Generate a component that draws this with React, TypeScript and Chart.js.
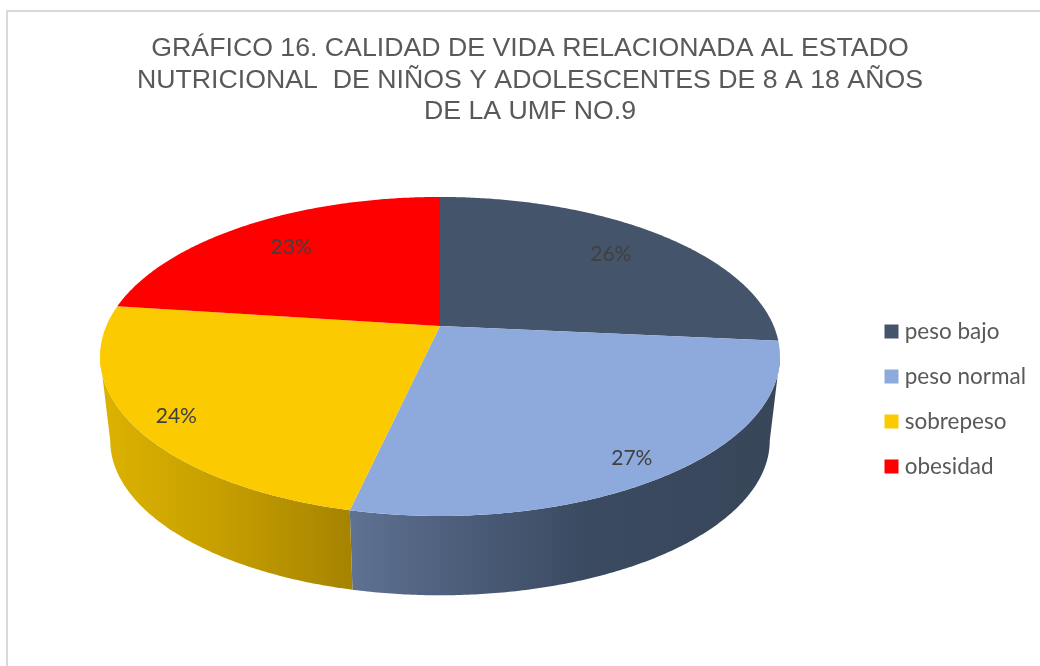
import React, { useEffect, useRef } from "react";
import { Chart, registerables } from "chart.js";

Chart.register(...registerables);

const titleLines = [
  "GRÁFICO 16. CALIDAD DE VIDA RELACIONADA AL ESTADO",
  "NUTRICIONAL  DE NIÑOS Y ADOLESCENTES DE 8 A 18 AÑOS",
  "DE LA UMF NO.9",
];
const categories = ["peso bajo", "peso normal", "sobrepeso", "obesidad"];
const shares = [26.49, 27.04, 23.57, 22.9];
const sliceColors = ["#44546A", "#8EA9DB", "#FCCA00", "#FF0000"];

// Perspective view of the pie disc (style only)
const VIEW = { cx: 440, cy: 326, a: 333.7, b: 153.7, k: -0.191, drop: 85, shrink: 0.97 };
const WALL_STOPS: Record<number, [number, string][]> = {
  1: [[0, "#5F7292"], [0.25, "#4D5E7B"], [0.55, "#3A4A60"], [1, "#384659"]],
  2: [[0, "#DDB300"], [0.5, "#C49E00"], [1, "#A68300"]],
};
const LABEL_RADIUS = [0.76, 0.89, 0.885, 0.75];
const LABEL_TURN = [0, 0.04, -0.03, 0];

function rim(angle: number, r = 1, lower = false) {
  const X = r * Math.cos(angle);
  const Y = r * Math.sin(angle);
  const d = 1 + VIEW.k * Y;
  const s = lower ? VIEW.shrink : 1;
  return {
    x: VIEW.cx + (s * VIEW.a * X) / d,
    y: VIEW.cy + (lower ? VIEW.drop : 0) + (s * VIEW.b * Y) / d,
  };
}

const STEP = Math.PI / 360;

const pie3d = {
  id: "pie3d",
  beforeDraw(chart: any) {
    const { ctx, width, height } = chart;
    ctx.save();
    ctx.fillStyle = "#D9D9D9";
    ctx.fillRect(6, 10, width - 6, 2);
    ctx.fillRect(6, 10, 2, height - 10);
    ctx.restore();
  },
  beforeDatasetDraw() {
    return false;
  },
  afterDatasetsDraw(chart: any) {
    const { ctx } = chart;
    const arcs = chart.getDatasetMeta(0).data;
    const right = Math.asin(-VIEW.k);
    const left = Math.PI - right;
    ctx.save();
    arcs.forEach((arc: any, i: number) => {
      const stops = WALL_STOPS[i];
      const a0 = Math.max(arc.startAngle, right);
      const a1 = Math.min(arc.endAngle, left);
      if (!stops || a1 <= a0) return;
      const top: { x: number; y: number }[] = [];
      const bottom: { x: number; y: number }[] = [];
      for (let a = a0; a < a1; a += STEP) {
        top.push(rim(a));
        bottom.push(rim(a, 1, true));
      }
      top.push(rim(a1));
      bottom.push(rim(a1, 1, true));
      const xs = top.concat(bottom).map((p) => p.x);
      const g = ctx.createLinearGradient(Math.min(...xs), 0, Math.max(...xs), 0);
      stops.forEach(([o, c]) => g.addColorStop(o, c));
      ctx.beginPath();
      top.forEach((p, n) => (n ? ctx.lineTo(p.x, p.y) : ctx.moveTo(p.x, p.y)));
      bottom.reverse().forEach((p) => ctx.lineTo(p.x, p.y));
      ctx.closePath();
      ctx.fillStyle = g;
      ctx.fill();
    });
    arcs.forEach((arc: any) => {
      ctx.beginPath();
      ctx.moveTo(VIEW.cx, VIEW.cy);
      for (let a = arc.startAngle; a < arc.endAngle; a += STEP) {
        const p = rim(a);
        ctx.lineTo(p.x, p.y);
      }
      const end = rim(arc.endAngle);
      ctx.lineTo(end.x, end.y);
      ctx.closePath();
      ctx.fillStyle = arc.options.backgroundColor;
      ctx.fill();
    });
    const total = shares.reduce((s, v) => s + v, 0);
    ctx.font = "21px Lato";
    ctx.fillStyle = "#404040";
    ctx.textAlign = "center";
    ctx.textBaseline = "middle";
    arcs.forEach((arc: any, i: number) => {
      const p = rim((arc.startAngle + arc.endAngle) / 2 + LABEL_TURN[i], LABEL_RADIUS[i]);
      ctx.fillText(`${Math.round((shares[i] / total) * 100)}%`, p.x, p.y);
    });
    ctx.restore();
  },
};

export default function App() {
  const ref = useRef<HTMLCanvasElement>(null);
  useEffect(() => {
    const chart = new Chart(ref.current!, {
      type: "pie",
      data: {
        labels: categories,
        datasets: [{ data: shares, backgroundColor: sliceColors, borderWidth: 0 }],
      },
      options: {
        responsive: false,
        animation: false,
        layout: { padding: { left: 24, right: 4, bottom: -132 } },
        plugins: {
          tooltip: { enabled: false },
          title: {
            display: true,
            text: titleLines,
            color: "#595959",
            font: { family: "'Liberation Sans'", size: 26.7, weight: "normal", lineHeight: 1.18 },
            padding: { top: 33, bottom: 20 },
          },
          legend: {
            position: "right",
            labels: {
              usePointStyle: true,
              pointStyle: "rect",
              boxWidth: 4,
              boxHeight: 14,
              padding: 22.5,
              color: "#595959",
              font: { family: "Lato", size: 22.5 },
            },
          },
        },
      },
      plugins: [pie3d],
    } as any);
    return () => chart.destroy();
  }, []);
  return (
    <div style={{ position: "fixed", left: 0, top: 0, width: 1040, height: 666, background: "#fff" }}>
      <canvas ref={ref} width={1040} height={666} style={{ display: "block" }} />
    </div>
  );
}
